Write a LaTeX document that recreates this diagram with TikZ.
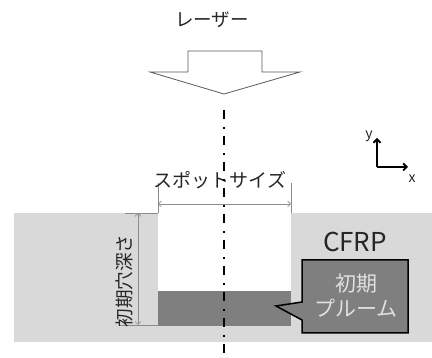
\documentclass[tikz,border=0pt]{standalone}
\usepackage{fontspec}
\setmainfont{Noto Sans CJK JP}
\usetikzlibrary{arrows.meta}
\definecolor{bandgray}{HTML}{D9D9D9}
\definecolor{plumegray}{HTML}{7F7F7F}
\definecolor{dimgray}{HTML}{8C8C8C}
\definecolor{txt}{HTML}{262626}
\begin{document}
\begin{tikzpicture}[x=1pt,y=-1pt,
  lbl/.style={inner sep=0pt, text=txt},
  dimline/.style={draw=dimgray, line width=0.6pt, {Straight Barb[length=3pt,width=6pt]}-{Straight Barb[length=3pt,width=6pt]}},
  extline/.style={draw=dimgray, line width=0.6pt},
  axisarrow/.style={draw=black, line width=1.8pt, -{Straight Barb[length=3.5pt,width=7pt]}},
  axisdash/.style={draw=black, line width=2.3pt, dash pattern=on 9pt off 8pt on 2pt off 7pt}
]
\useasboundingbox (0,0) rectangle (432,358);
% material band
\fill[bandgray] (14,213) rectangle (432,342);
\fill[white] (158,213) rectangle (291,291);
\fill[plumegray] (158,291) rectangle (291,326);
% laser arrow
\draw[draw=black!65, line width=0.8pt, fill=white]
  (188,51) -- (262,51) -- (262,72) -- (300,72) -- (224,94) -- (150,72) -- (188,72) -- cycle;
\node[lbl, font=\fontsize{18.5}{20}\selectfont] (laser) at (212,20) {レーザー};
% spot size dimension
\coordinate (sl0) at (158,183);
\coordinate (sl1) at (158,213);
\coordinate (sr0) at (291,183);
\coordinate (sr1) at (291,213);
\coordinate (sdl) at (158,204);
\coordinate (sdr) at (291,204);
\draw[extline] (sl0) -- (sl1);
\draw[extline] (sr0) -- (sr1);
\draw[dimline] (sdl) -- (sdr);
\node[lbl, font=\fontsize{19}{20}\selectfont] (spot) at (220,180) {スポットサイズ};
% depth dimension
\coordinate (dt0) at (125,213);
\coordinate (dt1) at (158,213);
\coordinate (db0) at (120,325);
\coordinate (db1) at (158,325);
\coordinate (ddt) at (138,213);
\coordinate (ddb) at (138,325);
\draw[extline] (dt0) -- (dt1);
\draw[extline] (db0) -- (db1);
\draw[dimline] (ddt) -- (ddb);
\node[lbl, rotate=90, font=\fontsize{18.6}{20}\selectfont] (depth) at (124,281) {初期穴深さ};
% center line
\coordinate (ctop) at (224,110);
\coordinate (cbot) at (224,358);
\draw[axisdash] (ctop) -- (cbot);
% CFRP
\node[lbl, font=\fontsize{26}{28}\selectfont] (cfrp) at (355,242) {CFRP};
% callout
\draw[fill=plumegray, draw=black, line width=1.5pt, line join=miter]
  (302,260) -- (408,260) -- (408,333) -- (302,333) -- (302,320) -- (276,306) -- (302,302) -- cycle;
\node[inner sep=0pt, text=white!88!black, font=\fontsize{21}{25}\selectfont, align=center] (plume) at (356,296) {初期\\プルーム};
% axes
\coordinate (o) at (377,167);
\coordinate (yend) at (377,138);
\coordinate (xend) at (408,167);
\draw[axisarrow] (o) -- (yend);
\draw[axisarrow] (o) -- (xend);
\node[lbl, font=\fontsize{14}{16}\selectfont] (ylab) at (369,136) {y};
\node[lbl, font=\fontsize{14}{16}\selectfont] (xlab) at (412,179) {x};
\end{tikzpicture}
\end{document}
